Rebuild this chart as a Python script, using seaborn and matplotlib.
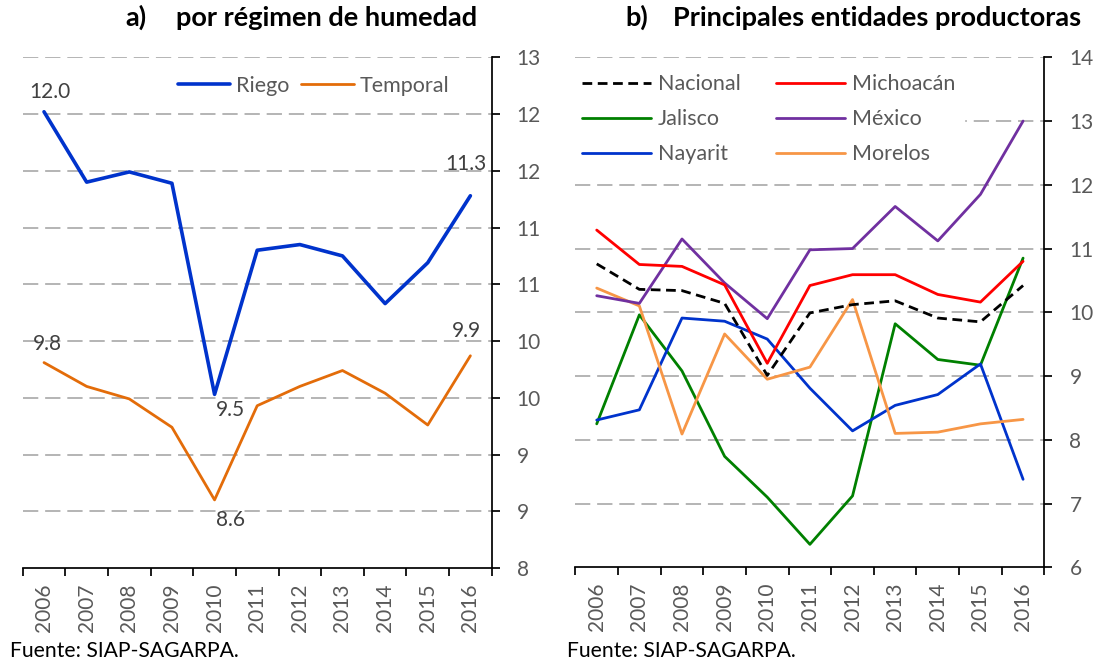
import numpy as np
import seaborn as sns
import matplotlib.pyplot as plt
from matplotlib.ticker import FuncFormatter

# Datos
anios = list(range(2006, 2017))

riego = [12.02, 11.40, 11.49, 11.39, 9.53, 10.80, 10.85, 10.75, 10.33, 10.69, 11.28]
temporal = [9.81, 9.60, 9.49, 9.24, 8.60, 9.43, 9.60, 9.74, 9.54, 9.26, 9.87]

nacional = [10.76, 10.36, 10.34, 10.14, 9.01, 9.99, 10.12, 10.18, 9.91, 9.85, 10.42]
michoacan = [11.29, 10.75, 10.72, 10.43, 9.20, 10.42, 10.59, 10.59, 10.28, 10.16, 10.80]
jalisco = [8.25, 9.96, 9.08, 7.74, 7.10, 6.36, 7.12, 9.82, 9.26, 9.17, 10.85]
mexico = [10.26, 10.14, 11.15, 10.46, 9.90, 10.98, 11.00, 11.66, 11.12, 11.85, 13.00]
nayarit = [8.31, 8.47, 9.91, 9.86, 9.58, 8.81, 8.14, 8.54, 8.71, 9.19, 7.38]
morelos = [10.38, 10.10, 8.09, 9.66, 8.95, 9.14, 10.20, 8.10, 8.12, 8.25, 8.32]

sns.set_theme(style='ticks')
plt.rcParams['font.family'] = ['Lato', 'DejaVu Sans']

GRIS = '#595959'
FS = 15
FS_LEY = 15.5
W, H = 1095, 667


def caja(x0, y0, x1, y1):
    return [x0 / W, 1 - y1 / H, (x1 - x0) / W, (y1 - y0) / H]


def redondeo_excel(v, pos):
    return str(int(np.floor(v + 0.5 + 1e-9)))


def estilo(ax, ymin, ymax, paso):
    ax.set_xlim(2005.5, 2016.5)
    ax.set_ylim(ymin, ymax)
    marcas = np.arange(ymin, ymax + paso / 2, paso)
    ax.set_yticks(marcas)
    ax.yaxis.set_major_formatter(FuncFormatter(redondeo_excel))
    ax.yaxis.tick_right()
    ax.set_xticks(anios)
    ax.set_xticks(np.arange(2005.5, 2017, 1), minor=True)
    ax.tick_params(axis='x', which='major', length=0, pad=11, labelrotation=90,
                   labelsize=FS, labelcolor=GRIS)
    ax.tick_params(axis='x', which='minor', length=6, width=1.25, color='black',
                   direction='out', bottom=True)
    ax.tick_params(axis='y', which='major', length=6, width=1.25, color='black',
                   direction='out', right=True, left=False, pad=12,
                   labelsize=FS, labelcolor=GRIS)
    for s in ['left', 'top']:
        ax.spines[s].set_visible(False)
    for s in ['right', 'bottom']:
        ax.spines[s].set_visible(True)
        ax.spines[s].set_color('black')
        ax.spines[s].set_linewidth(1.25)
    for t in marcas[1:]:
        ax.axhline(t, color='#A0A0A0', lw=1.1, ls=(0, (10, 4.5)), zorder=0.5)
    ax.set_xlabel('')
    ax.set_ylabel('')


fig = plt.figure(figsize=(10.95, 6.67), dpi=100)
ax1 = fig.add_axes(caja(22.7, 57.3, 491.7, 568))
ax2 = fig.add_axes(caja(575.4, 57.3, 1044.4, 567.3))

# a) por régimen de humedad
sns.lineplot(x=anios, y=riego, ax=ax1, color='#0033CC', lw=2.6, label='Riego', legend=False)
sns.lineplot(x=anios, y=temporal, ax=ax1, color='#E36C09', lw=2.0, label='Temporal', legend=False)
estilo(ax1, 8, 12.5, 0.5)


def etiqueta(ax, x, y, dx, dy):
    ax.annotate(f'{y:.1f}', (x, y), xytext=(dx, dy), textcoords='offset pixels',
                ha='center', va='center', fontsize=FS, color='#404040')


etiqueta(ax1, 2006, riego[0], 6, 20)
etiqueta(ax1, 2016, riego[-1], -4, 32)
etiqueta(ax1, 2010, riego[4], 16, -16)
etiqueta(ax1, 2006, temporal[0], 3, 19)
etiqueta(ax1, 2016, temporal[-1], -4, 25)
etiqueta(ax1, 2010, temporal[4], 16, -20)

ax1.legend(loc='center left', bbox_to_anchor=(174 / W, 1 - 86 / H),
           bbox_transform=fig.transFigure, ncol=2, fontsize=FS_LEY, frameon=True,
           facecolor='white', edgecolor='white', framealpha=1, borderpad=0.2,
           borderaxespad=0, handlelength=2.42, handletextpad=0.28, columnspacing=0.54,
           labelcolor=GRIS)

# b) Principales entidades productoras
series = [
    ('Nacional', nacional, 'black'),
    ('Jalisco', jalisco, '#008000'),
    ('Nayarit', nayarit, '#0033CC'),
    ('Michoacán', michoacan, '#FF0000'),
    ('México', mexico, '#7030A0'),
    ('Morelos', morelos, '#F79646'),
]
orden_z = {'Nacional': 5, 'Michoacán': 4, 'México': 3, 'Morelos': 2.5, 'Nayarit': 2.4, 'Jalisco': 2.3}
for nombre, valores, color in series:
    if nombre == 'Nacional':
        sns.lineplot(x=anios, y=valores, ax=ax2, color=color, lw=2.0, label=nombre,
                     legend=False, linestyle=(0, (3.5, 2)), zorder=orden_z[nombre])
    else:
        sns.lineplot(x=anios, y=valores, ax=ax2, color=color, lw=2.0, label=nombre,
                     legend=False, zorder=orden_z[nombre])
estilo(ax2, 6, 14, 1)

ax2.legend(loc='center left', bbox_to_anchor=(573 / W, 1 - 119.3 / H),
           bbox_transform=fig.transFigure, ncol=2, fontsize=FS_LEY, frameon=True,
           facecolor='white', edgecolor='white', framealpha=1, borderpad=0.4,
           borderaxespad=0, handlelength=3.2, handletextpad=0.33, columnspacing=1.67,
           labelspacing=0.69, labelcolor=GRIS)

# títulos
for x, txt in [(125, 'a)'), (176, 'por régimen de humedad'),
               (625, 'b)'), (673, 'Principales entidades productoras')]:
    fig.text(x / W, 1 - 26 / H, txt, fontsize=19.5, fontweight='bold', ha='left',
             va='baseline', color='black')

for x in [10, 567]:
    fig.text(x / W, 1 - 657 / H, 'Fuente: SIAP-SAGARPA.', fontsize=15.2, ha='left',
             va='baseline', color='black')

fig.savefig('out.png', dpi=100)
